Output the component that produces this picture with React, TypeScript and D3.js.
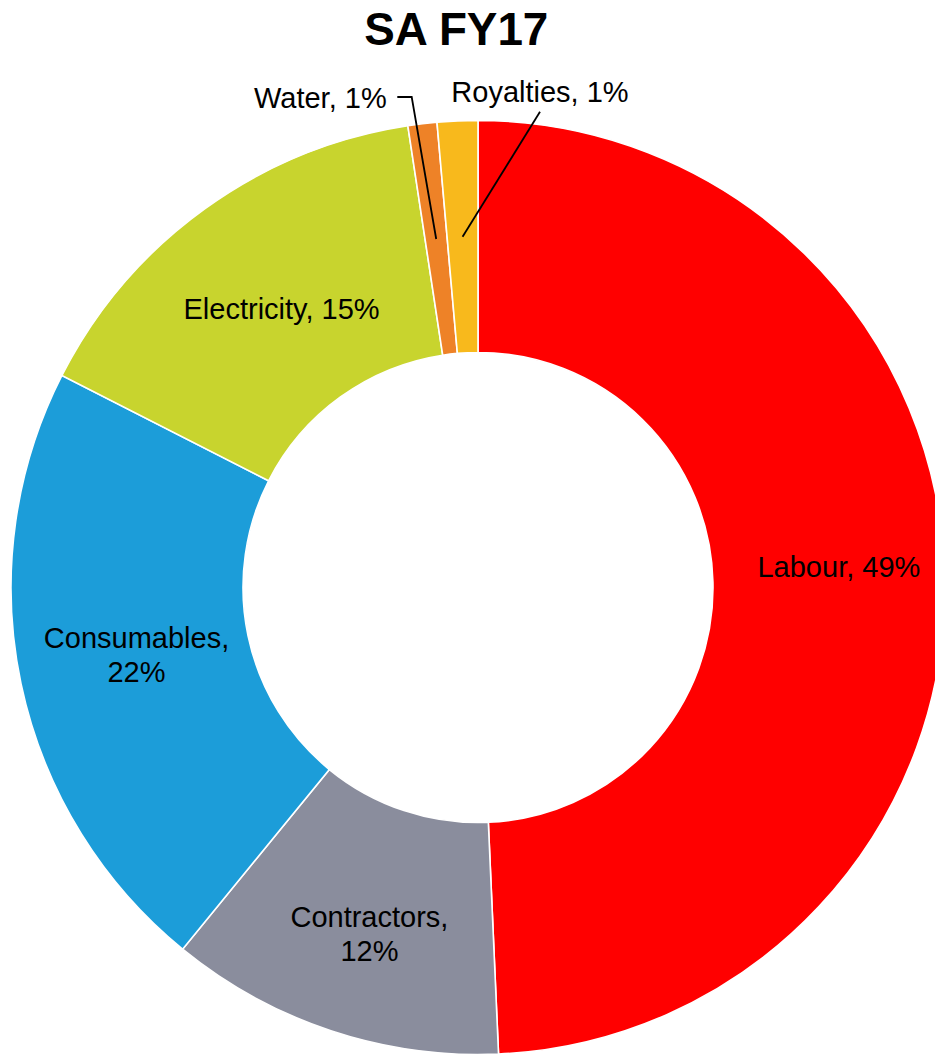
import React from "react";
import * as d3 from "d3";

const title = "SA FY17";
const categories = ["Labour", "Contractors", "Consumables", "Electricity", "Water", "Royalties"];
const shares = [49.3, 11.6, 21.6, 15.1, 1.0, 1.4];
const colors = ["#FF0000", "#8A8D9D", "#1C9DD9", "#C8D42E", "#EE8227", "#F8B91C"];
const wrapLabel = [false, true, true, false, false, false];

const W = 935;
const H = 1054;
const CX = 478;
const CY = 587.5;
const R_OUT = 467;
const R_IN = 235;
const FONT = "'Liberation Sans', Arial, Helvetica, sans-serif";
const FS = 29;
const LH = 33.5;

// label nudges relative to slice centroid (inside labels)
const insideNudge: Record<string, [number, number]> = {
  Labour: [10, -13],
  Contractors: [2, 13],
  Consumables: [2, -5],
  Electricity: [9, 6],
};

export default function App() {
  const pie = d3
    .pie<number>()
    .sort(null)
    .value((d) => d)
    .startAngle(0)
    .endAngle(2 * Math.PI);
  const arcs = pie(shares);
  const arc = d3.arc<d3.PieArcDatum<number>>().innerRadius(R_IN).outerRadius(R_OUT);

  const labelText = (i: number) => `${categories[i]}, ${Math.round(shares[i])}%`;

  const insideLabels = arcs.slice(0, 4).map((a, i) => {
    const [cx, cy] = arc.centroid(a);
    const [dx, dy] = insideNudge[categories[i]];
    const x = CX + cx + dx;
    const y = CY + cy + dy;
    const lines = wrapLabel[i]
      ? [`${categories[i]},`, `${Math.round(shares[i])}%`]
      : [labelText(i)];
    const first = y - ((lines.length - 1) * LH) / 2 + FS * 0.358;
    return (
      <text
        key={categories[i]}
        x={x}
        textAnchor="middle"
        fontFamily={FONT}
        fontSize={FS}
        fill="#000"
      >
        {lines.map((l, k) => (
          <tspan key={k} x={x} y={first + k * LH}>
            {l}
          </tspan>
        ))}
      </text>
    );
  });

  // outside labels with leader lines (Water, Royalties)
  const wIdx = 4;
  const rIdx = 5;
  const [wcx, wcy] = arc.centroid(arcs[wIdx]);
  const [rcx, rcy] = arc.centroid(arcs[rIdx]);
  const waterEnd = { x: 386.7, base: 108.3 };
  const royMid = { x: 540, base: 102.3 };
  const waterLine = d3.line()([
    [CX + wcx, CY + wcy],
    [411.7, 97],
    [397.3, 97],
  ]);
  const royLine = d3.line()([
    [CX + rcx, CY + rcy],
    [royMid.x, royMid.base + 9.4],
  ]);

  return (
    <svg
      width={W}
      height={H}
      style={{ position: "absolute", left: 0, top: 0, display: "block", background: "#fff" }}
    >
      <text
        x={456.3}
        y={45}
        textAnchor="middle"
        fontFamily={FONT}
        fontWeight="bold"
        fontSize={45.8}
        fill="#000"
      >
        {title}
      </text>
      <g transform={`translate(${CX},${CY})`}>
        {arcs.map((a, i) => (
          <path key={categories[i]} d={arc(a) || ""} fill={colors[i]} stroke="#fff" strokeWidth={1.6} />
        ))}
      </g>
      {insideLabels}
      <path d={waterLine || ""} fill="none" stroke="#000" strokeWidth={1.8} />
      <path d={royLine || ""} fill="none" stroke="#000" strokeWidth={1.8} />
      <text x={waterEnd.x} y={waterEnd.base} textAnchor="end" fontFamily={FONT} fontSize={FS} fill="#000">
        {labelText(wIdx)}
      </text>
      <text x={royMid.x} y={royMid.base} textAnchor="middle" fontFamily={FONT} fontSize={FS} fill="#000">
        {labelText(rIdx)}
      </text>
    </svg>
  );
}
